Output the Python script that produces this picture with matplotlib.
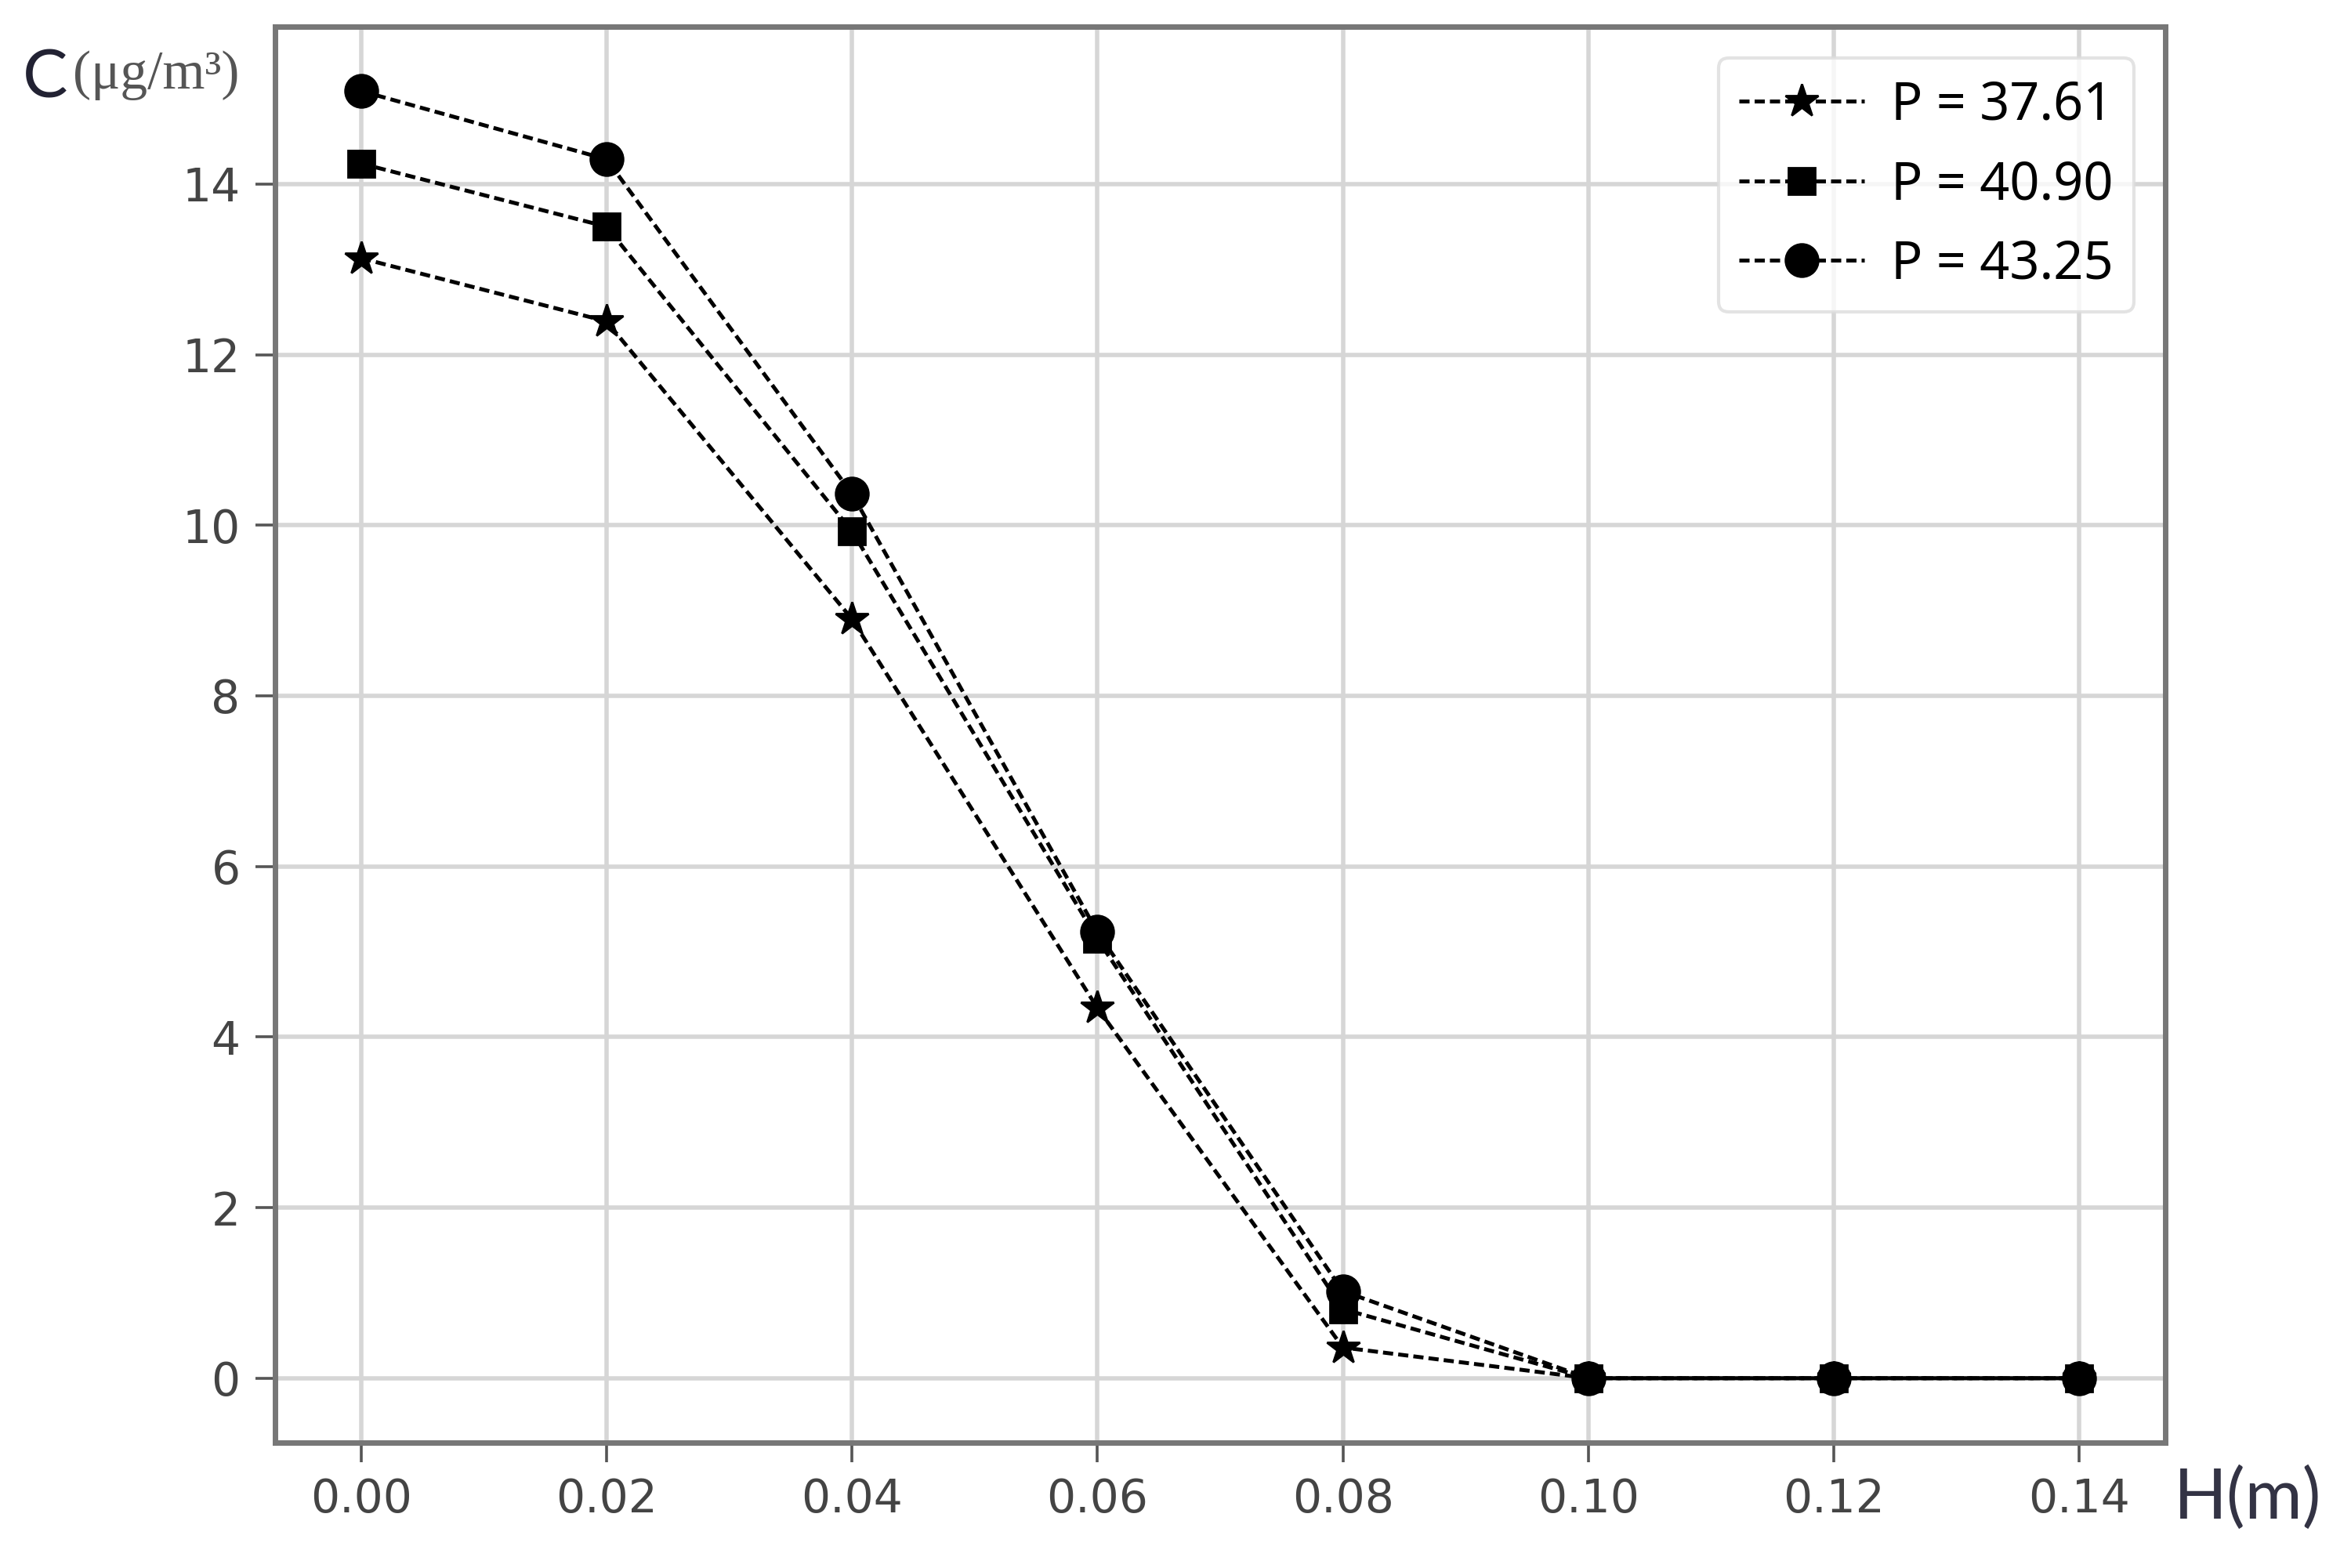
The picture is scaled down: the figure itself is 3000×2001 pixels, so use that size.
import matplotlib
matplotlib.use('Agg')
import matplotlib.pyplot as plt

# concentration profiles vs height for three pressures
H = [0.00, 0.02, 0.04, 0.06, 0.08, 0.10, 0.12, 0.14]
C_3761 = [13.13, 12.39, 8.90, 4.34, 0.36, 0.0, 0.0, 0.0]
C_4090 = [14.24, 13.50, 9.93, 5.15, 0.81, 0.0, 0.0, 0.0]
C_4325 = [15.09, 14.29, 10.37, 5.23, 1.02, 0.0, 0.0, 0.0]
labels = ['P = 37.61', 'P = 40.90', 'P = 43.25']
xticks = [0.00, 0.02, 0.04, 0.06, 0.08, 0.10, 0.12, 0.14]
yticks = [0, 2, 4, 6, 8, 10, 12, 14]

fig = plt.figure(figsize=(15, 10.005), dpi=200)
ax = fig.add_axes([0.117, 0.080, 0.804, 0.903])

dash = (2.6, 1.3)
ax.plot(H, C_3761, '--', dashes=dash, color='black', lw=1.8, marker='*', ms=16, label=labels[0])
ax.plot(H, C_4090, '--', dashes=dash, color='black', lw=1.8, marker='s', ms=12, label=labels[1])
ax.plot(H, C_4325, '--', dashes=dash, color='black', lw=1.8, marker='o', ms=15, label=labels[2])

ax.set_xticks(xticks)
ax.set_xticklabels(['%.2f' % v for v in xticks])
ax.set_yticks(yticks)
ax.grid(True, color='#d6d6d6', lw=2.0)
ax.set_axisbelow(True)

for s in ax.spines.values():
	s.set_color('#777777')
	s.set_linewidth(2.5)
ax.tick_params(axis='both', length=9, width=1.3, color='#555555', pad=7,
               labelsize=21, labelcolor='#444444')

legend = ax.legend(loc='upper right', fontsize=24, handlelength=2.4, handletextpad=0.5,
                   labelspacing=0.5, borderaxespad=0.6, fancybox=True)
legend.get_frame().set_edgecolor('#dddddd')
legend.get_frame().set_linewidth(1.5)
for t in legend.get_texts():
	t.set_family(['Noto Sans', 'DejaVu Sans'])

fig.text(0.0097, 0.95, 'C', fontsize=31, family=['Lato', 'DejaVu Sans'],
         color='#222233', ha='left', va='center')
fig.text(0.031, 0.952, '(μg/m³)', fontsize=25, family=['Liberation Serif', 'DejaVu Serif'],
         color='#555555', ha='left', va='center')
fig.text(0.956, 0.044, 'H(m)', fontsize=32, family=['Lato', 'DejaVu Sans'],
         color='#333344', ha='center', va='center')

plt.savefig('out.png')
plt.close()
